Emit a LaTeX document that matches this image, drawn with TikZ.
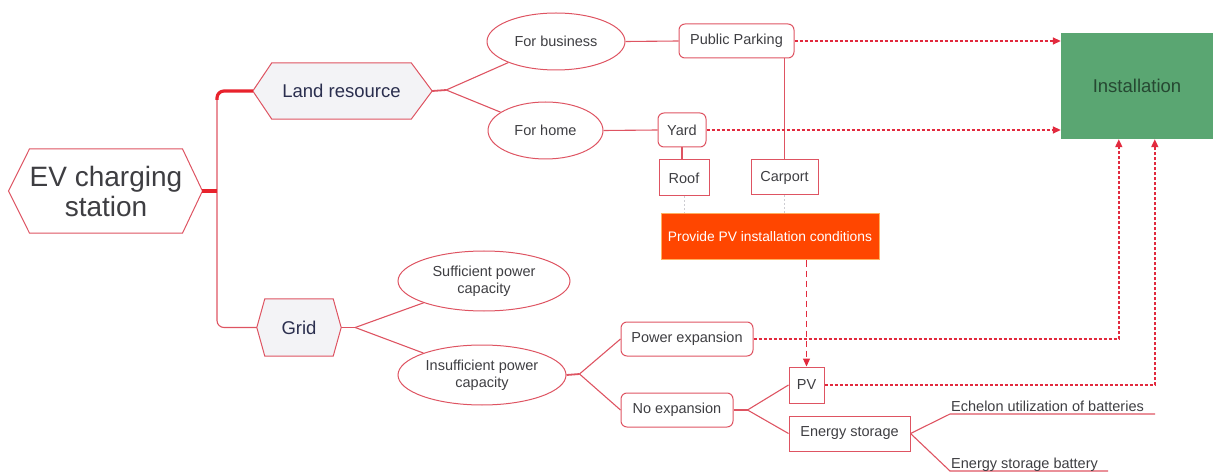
\documentclass[tikz,border=0pt]{standalone}
\usepackage{fontspec}
\setmainfont{Liberation Sans}
\usetikzlibrary{shapes.geometric,arrows.meta,calc,backgrounds}

\definecolor{edge}{RGB}{222,84,98}
\definecolor{flow}{RGB}{226,42,62}
\definecolor{trunk}{RGB}{232,34,44}
\definecolor{hexfill}{RGB}{243,243,246}
\definecolor{txt}{RGB}{62,62,66}
\definecolor{hextxt}{RGB}{42,46,78}
\definecolor{pvorange}{RGB}{255,70,0}
\definecolor{pvrim}{RGB}{255,176,96}
\definecolor{instgreen}{RGB}{90,166,114}
\definecolor{insttxt}{RGB}{38,72,50}
\definecolor{guide}{RGB}{205,205,210}

\tikzset{
  base/.style={inner sep=0pt, font=\fontsize{14.5}{17}\selectfont, text=txt},
  hexbody/.style={base, text=hextxt, font=\fontsize{18.5}{21}\selectfont},
  hexshape/.style={draw=edge, line width=1pt},
  oval/.style={base, ellipse, draw=edge, line width=1pt, align=center},
  rbox/.style={base, draw=edge, line width=1pt, rounded corners=6pt},
  sbox/.style={base, draw=edge, line width=1pt},
  link/.style={draw=edge, line width=1.1pt},
  dotarrow/.style={draw=flow, line width=1.6pt, dash pattern=on 3pt off 2pt,
    -{Triangle[length=8pt,width=7pt]}, color=flow},
  dasharrow/.style={draw=flow, line width=1.3pt, dash pattern=on 6pt off 4pt,
    -{Triangle[length=8pt,width=7pt]}, color=flow},
  guideline/.style={draw=guide, line width=1pt, dash pattern=on 2pt off 2pt},
}

\begin{document}
\begin{tikzpicture}[x=1pt,y=-1pt]
\useasboundingbox (0,0) rectangle (1213,473);

% --- hexagonal topics ---
\node[hexbody, text=txt, font=\fontsize{28}{30}\selectfont, align=center,
      minimum width=152, minimum height=84] (ev) at (106,191) {EV charging\\station};
\coordinate (evL) at ($(ev.west)+(-21,0)$);
\coordinate (evR) at ($(ev.east)+(20,0)$);

\node[hexbody, minimum width=139, minimum height=56] (land) at (341.5,91) {Land resource};
\coordinate (landL) at ($(land.west)+(-19,0)$);
\coordinate (landR) at ($(land.east)+(21,0)$);

\node[hexbody, minimum width=68, minimum height=57] (grid) at (299,327.5) {Grid};
\coordinate (gridL) at ($(grid.west)+(-8,0)$);
\coordinate (gridR) at ($(grid.east)+(8,0)$);

\begin{scope}[on background layer]
  \draw[hexshape, fill=white] (ev.north west) -- (ev.north east) -- (evR) -- (ev.south east)
        -- (ev.south west) -- (evL) -- cycle;
  \draw[hexshape, fill=hexfill] (land.north west) -- (land.north east) -- (landR) -- (land.south east)
        -- (land.south west) -- (landL) -- cycle;
  \draw[hexshape, fill=hexfill] (grid.north west) -- (grid.north east) -- (gridR) -- (grid.south east)
        -- (grid.south west) -- (gridL) -- cycle;
\end{scope}

% --- ovals ---
\node[oval, minimum width=138, minimum height=57] (biz) at (556,41.5) {For business};
\node[oval, minimum width=115, minimum height=57] (home) at (545.5,130.5) {For home};
\node[oval, minimum width=172, minimum height=60] (suff) at (484,281) {Sufficient power\\capacity};
\node[oval, minimum width=168, minimum height=60] (insuff) at (482,375) {Insufficient power\\capacity};

% --- boxes ---
\node[rbox, minimum width=115, minimum height=34] (pp) at (736.5,41) {Public Parking};
\node[rbox, minimum width=48, minimum height=34] (yard) at (682,130) {Yard};
\node[sbox, minimum width=50, minimum height=36] (roof) at (684,178) {Roof};
\node[sbox, minimum width=67, minimum height=35] (carport) at (784.5,177.5) {Carport};
\node[base, fill=pvorange, draw=pvrim, line width=1pt, text=white,
      font=\fontsize{13.8}{16}\selectfont,
      minimum width=218, minimum height=46] (provide) at (770,237) {Provide PV installation conditions};
\node[base, fill=instgreen, text=insttxt, font=\fontsize{18.5}{21}\selectfont,
      minimum width=152, minimum height=106] (inst) at (1137,86) {Installation};
\node[rbox, minimum width=132, minimum height=34] (pe) at (687,339) {Power expansion};
\node[rbox, minimum width=112, minimum height=34] (ne) at (677,410) {No expansion};
\node[sbox, minimum width=35, minimum height=36] (pv) at (806.5,385) {PV};
\node[sbox, minimum width=121, minimum height=35] (es) at (849.5,433.5) {Energy storage};

% --- main spine ---
\coordinate (spine) at (217,191);
\draw[link, rounded corners=7pt] (landL) -| (spine) |- (gridL);
\draw[draw=trunk, line width=4pt] (evR) -- (spine);
\draw[draw=trunk, line width=3.2pt, rounded corners=7pt]
  (landL) -| ($(landL -| spine)+(0,9)$);

% --- land branches ---
\coordinate (landFork) at ($(landR)+(14,-1)$);
\draw[link, line width=1.8pt] (landR) -- (landFork);
\draw[link] (landFork) -- (biz);
\draw[link] (landFork) -- (home);
\draw[link] (biz.east) -- (pp.west);
\draw[link] (home.east) -- (yard.west);
\draw[link] (yard.south) -- (yard.south |- roof.north);
\draw[link] (carport.north) -- (carport.north |- pp.south);
\draw[guideline] (roof.south) -- (roof.south |- provide.north);
\draw[guideline] (carport.south) -- (carport.south |- provide.north);

% --- grid branches ---
\coordinate (gridFork) at ($(gridR)+(14,0)$);
\draw[link, line width=1.8pt] (gridR) -- (gridFork);
\draw[link] (gridFork) -- (suff);
\draw[link] (gridFork) -- (insuff);

\coordinate (capFork) at ($(insuff.east)+(13,-1)$);
\draw[link, line width=1.8pt] (insuff.east) -- (capFork);
\draw[link] (capFork) -- (pe.west);
\draw[link] (capFork) -- (ne.west);

\coordinate (neFork) at ($(ne.east)+(14,0)$);
\draw[link, line width=1.8pt] (ne.east) -- (neFork);
\draw[link] (neFork) -- (pv.west);
\draw[link] (neFork) -- (es.west);

% --- storage options ---
\coordinate (echStart) at (950,414);
\coordinate (echEnd) at (1155,414);
\coordinate (batStart) at (950,471);
\coordinate (batEnd) at (1108,471);
\draw[link] (es.east) -- (echStart) -- (echEnd);
\draw[link] (es.east) -- (batStart) -- (batEnd);
\node[base, anchor=base west] (ech) at ($(echStart)+(1,-3)$) {Echelon utilization of batteries};
\node[base, anchor=base west] (bat) at ($(batStart)+(1,-3)$) {Energy storage battery};

% --- flows into installation ---
\draw[dasharrow] (provide.south -| pv.north) -- (pv.north);
\draw[dotarrow] (pp.east) -- (pp.east -| inst.west);
\draw[dotarrow] (yard.east) -- (yard.east -| inst.west);
\coordinate (instIn1) at ($(inst.south west)+(58,0)$);
\coordinate (instIn2) at ($(inst.south west)+(94,0)$);
\draw[dotarrow] (pe.east) -| (instIn1);
\draw[dotarrow] (pv.east) -| (instIn2);

\end{tikzpicture}
\end{document}
